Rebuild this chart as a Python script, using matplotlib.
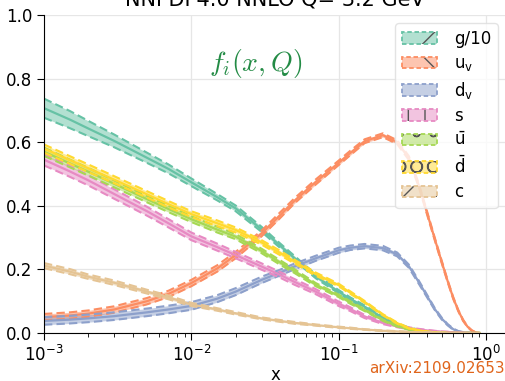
import matplotlib
matplotlib.use("Agg")
import matplotlib.pyplot as plt
from matplotlib.patches import Patch
from matplotlib.legend_handler import HandlerTuple
import numpy as np

# Momentum fraction grid
x = [1e-3, 1.5e-3, 2e-3, 3e-3, 5e-3, 7e-3, 1e-2, 1.5e-2, 2e-2, 3e-2, 4e-2, 5e-2,
     7e-2, 0.1, 0.12, 0.15, 0.2, 0.25, 0.3, 0.35, 0.4, 0.45, 0.5, 0.55, 0.6, 0.65,
     0.7, 0.75, 0.8, 0.85, 0.9]

# Central values and 1-sigma uncertainties of x*f(x, Q)
g10 = [0.707, 0.671, 0.643, 0.604, 0.551, 0.516, 0.474, 0.427, 0.392, 0.326, 0.275,
       0.236, 0.178, 0.13, 0.107, 0.083, 0.048, 0.028, 0.015, 0.009, 0.005, 0.003,
       0.002, 0.001, 0.001, 0.0, 0.0, 0.0, 0.0, 0.0, 0.0]
g10_err = [0.03, 0.027, 0.024, 0.02, 0.016, 0.014, 0.012, 0.01, 0.009, 0.008, 0.007,
           0.007, 0.006, 0.005, 0.005, 0.004, 0.003, 0.003, 0.002, 0.002, 0.001,
           0.001, 0.001, 0.0, 0.0, 0.0, 0.0, 0.0, 0.0, 0.0, 0.0]

uv = [0.05, 0.055, 0.061, 0.074, 0.1, 0.123, 0.157, 0.203, 0.245, 0.313, 0.37,
      0.415, 0.475, 0.535, 0.566, 0.603, 0.622, 0.6, 0.55, 0.465, 0.375, 0.295,
      0.225, 0.163, 0.11, 0.07, 0.04, 0.02, 0.008, 0.002, 0.0]
uv_err = [0.01, 0.01, 0.01, 0.01, 0.01, 0.01, 0.01, 0.01, 0.01, 0.009, 0.009,
          0.008, 0.008, 0.007, 0.007, 0.006, 0.006, 0.006, 0.006, 0.005, 0.005,
          0.004, 0.004, 0.003, 0.003, 0.002, 0.002, 0.001, 0.001, 0.0, 0.0]

dv = [0.038, 0.042, 0.046, 0.053, 0.065, 0.074, 0.085, 0.108, 0.13, 0.167, 0.19,
      0.209, 0.235, 0.26, 0.268, 0.273, 0.267, 0.247, 0.21, 0.16, 0.115, 0.075,
      0.046, 0.026, 0.012, 0.005, 0.002, 0.001, 0.0, 0.0, 0.0]
dv_err = [0.012, 0.012, 0.012, 0.012, 0.012, 0.012, 0.012, 0.011, 0.011, 0.01,
          0.009, 0.009, 0.008, 0.008, 0.007, 0.007, 0.007, 0.006, 0.005, 0.005,
          0.004, 0.003, 0.003, 0.002, 0.002, 0.001, 0.001, 0.0, 0.0, 0.0, 0.0]

s = [0.545, 0.508, 0.48, 0.437, 0.383, 0.345, 0.304, 0.27, 0.245, 0.209, 0.183,
     0.161, 0.13, 0.092, 0.075, 0.052, 0.032, 0.021, 0.015, 0.011, 0.008, 0.006,
     0.004, 0.003, 0.002, 0.001, 0.001, 0.0, 0.0, 0.0, 0.0]
s_err = [0.018, 0.017, 0.016, 0.015, 0.014, 0.013, 0.012, 0.011, 0.01, 0.01,
         0.009, 0.009, 0.008, 0.007, 0.006, 0.005, 0.004, 0.003, 0.003, 0.002,
         0.002, 0.001, 0.001, 0.001, 0.0, 0.0, 0.0, 0.0, 0.0, 0.0, 0.0]

ubar = [0.57, 0.533, 0.507, 0.469, 0.421, 0.39, 0.358, 0.325, 0.303, 0.258, 0.222,
        0.195, 0.152, 0.117, 0.096, 0.072, 0.04, 0.022, 0.011, 0.006, 0.003, 0.002,
        0.001, 0.0, 0.0, 0.0, 0.0, 0.0, 0.0, 0.0, 0.0]
ubar_err = [0.013, 0.012, 0.012, 0.011, 0.01, 0.01, 0.009, 0.009, 0.008, 0.007,
            0.007, 0.006, 0.005, 0.004, 0.004, 0.003, 0.002, 0.002, 0.001, 0.001,
            0.001, 0.0, 0.0, 0.0, 0.0, 0.0, 0.0, 0.0, 0.0, 0.0, 0.0]

dbar = [0.58, 0.544, 0.518, 0.482, 0.436, 0.405, 0.374, 0.345, 0.324, 0.285, 0.252,
        0.225, 0.185, 0.151, 0.127, 0.098, 0.057, 0.031, 0.015, 0.008, 0.004, 0.002,
        0.001, 0.0, 0.0, 0.0, 0.0, 0.0, 0.0, 0.0, 0.0]
dbar_err = [0.013, 0.012, 0.012, 0.011, 0.01, 0.01, 0.009, 0.009, 0.008, 0.007,
            0.007, 0.006, 0.005, 0.004, 0.004, 0.003, 0.002, 0.002, 0.001, 0.001,
            0.001, 0.0, 0.0, 0.0, 0.0, 0.0, 0.0, 0.0, 0.0, 0.0, 0.0]

c = [0.212, 0.193, 0.177, 0.158, 0.13, 0.112, 0.09, 0.074, 0.062, 0.046, 0.038,
     0.032, 0.025, 0.018, 0.015, 0.011, 0.007, 0.005, 0.003, 0.002, 0.002, 0.001,
     0.001, 0.0, 0.0, 0.0, 0.0, 0.0, 0.0, 0.0, 0.0]
c_err = [0.008, 0.008, 0.007, 0.007, 0.006, 0.006, 0.005, 0.004, 0.004, 0.003,
         0.003, 0.003, 0.002, 0.002, 0.002, 0.001, 0.001, 0.001, 0.001, 0.0, 0.0,
         0.0, 0.0, 0.0, 0.0, 0.0, 0.0, 0.0, 0.0, 0.0, 0.0]

labels = ["g/10", r"$\mathrm{u_v}$", r"$\mathrm{d_v}$", r"$\mathrm{s}$",
          r"$\bar{\mathrm{u}}$", r"$\bar{\mathrm{d}}$", r"$\mathrm{c}$"]
colors = ["#66c2a5", "#fc8d62", "#8da0cb", "#e78ac3", "#a6d854", "#ffd92f", "#e5c494"]
hatches = ["/", "\\", "", "+", "o", "O", "/"]

series = [(g10, g10_err), (uv, uv_err), (dv, dv_err), (s, s_err),
          (ubar, ubar_err), (dbar, dbar_err), (c, c_err)]

W, H = 506, 381
fig = plt.figure(figsize=(W / 100, H / 100), dpi=100)
ax = fig.add_axes([44 / W, 48 / H, 462 / W, 318 / H])

handles = []
for (cv, err), col, hat, lab in zip(series, colors, hatches, labels):
    cv = np.asarray(cv)
    err = np.asarray(err)
    lo, hi = cv - err, cv + err
    ax.fill_between(x, lo, hi, color=col, alpha=0.5, linewidth=0)
    ax.plot(x, hi, color=col, lw=1.5, ls=(0, (4, 2)))
    ax.plot(x, lo, color=col, lw=1.5, ls=(0, (4, 2)))
    ax.plot(x, cv, color=col, lw=1.6)
    face = Patch(facecolor=col, alpha=0.5, edgecolor="none")
    hatch = Patch(facecolor="none", edgecolor="#555555", hatch=hat, linewidth=0)
    edge = Patch(facecolor="none", edgecolor=col, linestyle=(0, (2.5, 1.5)), linewidth=1.3)
    handles.append(((face, hatch, edge), lab))

ax.set_xscale("log")
ax.set_xlim(1e-3, 1.369)
ax.set_ylim(0, 1.0)
ax.set_yticks([0.0, 0.2, 0.4, 0.6, 0.8, 1.0])
ax.grid(True, which="major", color="#e6e6e6", lw=0.9)
ax.set_axisbelow(True)
for side in ("top", "right"):
    ax.spines[side].set_visible(False)
ax.tick_params(axis="both", which="major", labelsize=12, length=5)
ax.tick_params(axis="x", which="minor", length=3)

ax.set_title("NNPDF4.0 NNLO Q= 3.2 GeV", fontsize=15, pad=7)
ax.set_xlabel("x", fontsize=12, labelpad=1)

ax.text(0.459, 0.849, r"$f_i(x,Q)$", transform=ax.transAxes, fontsize=20,
        color="#238b45", ha="center", va="center", math_fontfamily="cm")

fig.text(505 / W, 8 / H, "arXiv:2109.02653", color="#e0651c", fontsize=11,
         ha="right", va="baseline")

leg = ax.legend([h for h, _ in handles], [l for _, l in handles], loc="upper right",
                fontsize=12, framealpha=0.8, edgecolor="#dddddd",
                labelspacing=0.38, handletextpad=1.0, handlelength=2.1,
                handler_map={tuple: HandlerTuple(ndivide=1)})

fig.savefig("out.png", dpi=100)
